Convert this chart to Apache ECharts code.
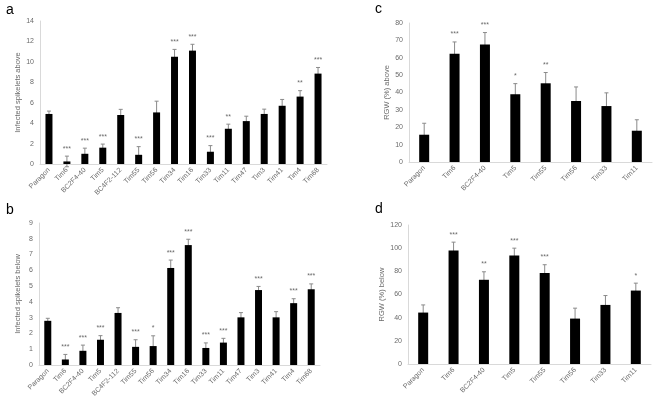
<!DOCTYPE html>
<html>
<head>
<meta charset="utf-8">
<script src="https://cdn.jsdelivr.net/npm/echarts@6/dist/echarts.min.js"></script>
<style>
  html, body { margin: 0; padding: 0; background: #fff; }
  #chart { width: 661px; height: 404px; }
</style>
</head>
<body>
<div id="chart"></div>
<script>
// panel a / b: infected spikelets
const linesAB = ['Paragon', 'Tim6', 'BC2F4-40', 'Tim5', 'BC4F2-112', 'Tim55', 'Tim56', 'Tim34',
  'Tim16', 'Tim33', 'Tim11', 'Tim47', 'Tim3', 'Tim41', 'Tim4', 'Tim68']
const aboveMean = [4.9, 0.25, 1.0, 1.6, 4.8, 0.9, 5.05, 10.5, 11.1, 1.2, 3.45, 4.2, 4.9, 5.7, 6.6, 8.85]
const aboveErr = [0.28, 0.52, 0.55, 0.35, 0.55, 0.8, 1.1, 0.72, 0.62, 0.6, 0.45, 0.48, 0.47, 0.62, 0.58, 0.6]
const aboveSig = ['', '***', '***', '***', '', '***', '', '***', '***', '***', '**', '', '', '', '**', '***']
const belowMean = [2.8, 0.35, 0.9, 1.6, 3.3, 1.15, 1.2, 6.15, 7.6, 1.08, 1.42, 3.02, 4.75, 3.02, 3.92, 4.8]
const belowErr = [0.16, 0.32, 0.36, 0.26, 0.33, 0.45, 0.65, 0.5, 0.37, 0.32, 0.27, 0.3, 0.23, 0.36, 0.28, 0.34]
const belowSig = ['', '***', '***', '***', '', '***', '*', '***', '***', '***', '***', '', '***', '', '***', '***']

// panel c / d: RGW
const linesCD = ['Paragon', 'Tim6', 'BC2F4-40', 'Tim5', 'Tim55', 'Tim56', 'Tim33', 'Tim11']
const rgwAboveMean = [15.7, 62.3, 67.6, 39.0, 45.3, 35.1, 32.2, 18.0]
const rgwAboveErr = [6.6, 6.8, 6.9, 6.1, 6.2, 8.1, 7.6, 6.3]
const rgwAboveSig = ['', '***', '***', '*', '**', '', '', '']
const rgwBelowMean = [44.4, 98.0, 72.7, 93.6, 78.5, 39.2, 51.0, 63.4]
const rgwBelowErr = [6.6, 7.2, 6.9, 6.4, 7.2, 9.0, 8.1, 6.4]
const rgwBelowSig = ['', '***', '**', '***', '***', '', '', '*']

const grey = '#6a6a6a'
const font = 'Liberation Sans'

const panels = [
  { cats: linesAB, mean: aboveMean, err: aboveErr, sig: aboveSig, name: 'Infected spikelets above',
    max: 14, step: 2, grid: { left: 40, right: 334, top: 21, bottom: 240 }, barW: 7 },
  { cats: linesAB, mean: belowMean, err: belowErr, sig: belowSig, name: 'Infected spikelets below',
    max: 9, step: 1, grid: { left: 39, right: 341, top: 223, bottom: 39 }, barW: 7 },
  { cats: linesCD, mean: rgwAboveMean, err: rgwAboveErr, sig: rgwAboveSig, name: 'RGW (%) above',
    max: 80, step: 10, grid: { left: 409, right: 9, top: 23, bottom: 242 }, barW: 10 },
  { cats: linesCD, mean: rgwBelowMean, err: rgwBelowErr, sig: rgwBelowSig, name: 'RGW (%) below',
    max: 120, step: 20, grid: { left: 408, right: 10, top: 225, bottom: 40 }, barW: 10 }
]

let myChart = echarts.init(document.getElementById('chart'), null, { renderer: 'canvas' })

let grids = [], xAxes = [], yAxes = [], series = []
panels.forEach((p, k) => {
  grids.push(p.grid)
  xAxes.push({
    type: 'category', gridIndex: k, data: p.cats,
    axisLine: { lineStyle: { color: '#d9d9d9' } },
    axisTick: { show: false },
    axisLabel: { rotate: 45, interval: 0, fontSize: 7, color: grey, fontFamily: font, margin: 5 }
  })
  yAxes.push({
    type: 'value', gridIndex: k, min: 0, max: p.max, interval: p.step,
    name: p.name, nameLocation: 'middle', nameGap: 17,
    nameTextStyle: { fontSize: 7.5, color: grey, fontFamily: font },
    axisLine: { show: true, lineStyle: { color: '#d9d9d9' } },
    axisTick: { show: false },
    splitLine: { show: false },
    axisLabel: { fontSize: 7, color: grey, fontFamily: font, margin: 6 }
  })
  series.push({
    type: 'bar', xAxisIndex: k, yAxisIndex: k,
    data: p.mean, barWidth: p.barW,
    itemStyle: { color: '#000' }, silent: true
  })
  // error bars + significance stars
  series.push({
    type: 'custom', xAxisIndex: k, yAxisIndex: k, silent: true,
    data: p.mean.map((m, i) => [i, m - p.err[i], m + p.err[i]]),
    renderItem: (params, api) => {
      let lo = api.coord([api.value(0), api.value(1)])
      let hi = api.coord([api.value(0), api.value(2)])
      let x = lo[0], cap = 2
      let st = { stroke: '#8a8a8a', lineWidth: 1 }
      return {
        type: 'group',
        children: [
          { type: 'line', shape: { x1: x, y1: lo[1], x2: x, y2: hi[1] }, style: st },
          { type: 'line', shape: { x1: x - cap, y1: hi[1], x2: x + cap, y2: hi[1] }, style: st },
          { type: 'line', shape: { x1: x - cap, y1: lo[1], x2: x + cap, y2: lo[1] }, style: st },
          { type: 'text', x: x, y: hi[1] - 4,
            style: { text: p.sig[params.dataIndex], fill: grey, fontSize: 7, fontFamily: font,
              align: 'center', verticalAlign: 'bottom' } }
        ]
      }
    }
  })
})

myChart.setOption({
  backgroundColor: '#fff',
  animation: false,
  title: [
    { text: 'a', left: 1, top: -2 },
    { text: 'b', left: 1, top: 198 },
    { text: 'c', left: 370, top: -3 },
    { text: 'd', left: 370, top: 197 }
  ].map(t => Object.assign(t, { textStyle: { fontSize: 14, fontWeight: 'normal', color: '#000', fontFamily: font } })),
  grid: grids,
  xAxis: xAxes,
  yAxis: yAxes,
  series: series
})
</script>
</body>
</html>
